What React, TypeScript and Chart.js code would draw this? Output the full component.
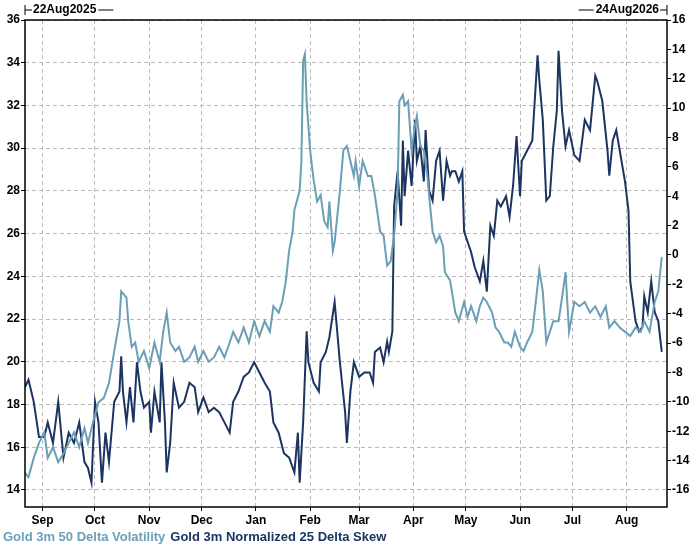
import React, { useEffect, useRef } from "react";
import { Chart, registerables } from "chart.js";
Chart.register(...registerables);

const volDays = [0,2,5,8,11,13,16,19,22,25,28,31,34,36,39,42,45,48,51,54,55,58,59,61,63,65,68,71,74,77,79,81,83,86,88,91,94,97,99,102,105,108,111,114,117,119,122,125,128,131,134,137,140,142,145,147,149,151,153,154,157,158,159,160,161,163,165,167,169,171,173,174,176,177,180,182,184,186,188,189,191,193,196,198,200,203,205,207,209,211,213,214,216,217,219,221,223,224,226,228,230,231,233,235,237,239,240,243,245,246,248,251,253,255,258,260,262,264,267,269,271,274,276,278,280,283,285,287,290,292,294,296,298,300,302,305,307,309,311,314,317,320,323,326,329,332,334,337,340,343,346,349,352,354,357,360,362,364];
const volValues = [14.8,14.6,15.5,16.2,16.7,15.5,16.0,15.3,15.7,16.2,16.7,16.0,16.9,16.2,17.2,18.1,18.3,19.0,20.5,21.9,23.3,23.0,21.9,20.7,20.9,20.0,20.5,19.7,20.9,20.0,21.4,22.3,20.9,20.5,20.7,20.0,20.2,20.7,20.0,20.5,20.0,20.2,20.7,20.2,20.9,21.4,20.9,21.6,20.9,21.9,21.2,21.9,21.4,22.6,22.3,22.8,23.7,25.2,26.1,27.1,28.0,29.4,34.1,34.4,32.2,29.9,28.5,27.5,27.8,26.6,26.3,27.5,25.2,25.6,28.0,29.9,30.1,29.4,28.7,29.4,28.2,29.4,28.7,28.7,27.8,26.1,25.9,24.5,24.7,25.9,28.0,32.2,32.5,32.0,32.2,29.9,31.1,31.5,30.1,29.9,28.7,27.8,26.1,25.6,25.9,25.4,24.2,23.8,22.8,22.3,21.9,22.8,22.1,22.6,21.9,22.6,23.0,22.8,22.3,21.6,21.4,20.9,20.9,20.7,21.4,20.7,20.5,20.9,21.4,22.8,24.3,23.3,20.9,21.4,21.9,21.9,23.0,24.2,21.4,22.8,22.6,22.8,22.3,22.6,22.1,22.6,21.6,21.9,21.6,21.4,21.2,21.6,21.4,21.9,21.4,22.8,23.3,24.9];

const skewDays = [0,2,5,8,11,13,16,19,22,25,28,31,34,36,38,40,42,44,46,48,51,54,55,56,58,60,62,64,66,68,71,72,74,77,78,80,81,83,85,88,91,94,97,99,102,105,108,111,114,117,119,122,125,128,131,134,137,140,142,145,148,151,154,156,157,159,161,162,165,168,169,172,174,177,180,183,184,186,188,191,194,197,199,200,203,205,207,208,210,211,213,215,216,217,219,221,223,224,226,228,229,231,233,235,237,239,241,243,244,246,248,250,251,253,255,257,260,262,264,266,268,270,272,275,277,279,281,283,284,287,290,293,294,296,298,300,302,304,305,307,309,311,314,317,320,323,326,327,330,333,334,336,338,340,343,345,346,349,351,353,354,356,358,360,362,364];
const skewValues = [-9.0,-8.5,-10.0,-12.4,-12.4,-11.4,-12.8,-10.0,-13.8,-12.1,-12.8,-11.4,-14.1,-14.5,-15.5,-10.0,-11.4,-15.5,-12.1,-14.1,-10.0,-9.3,-6.9,-9.3,-11.4,-9.0,-11.4,-7.3,-9.3,-10.4,-10.0,-12.1,-9.3,-11.4,-7.3,-11.4,-14.8,-12.8,-8.7,-10.4,-10.0,-8.7,-9.0,-10.7,-9.7,-10.7,-10.4,-10.7,-11.4,-12.1,-10.0,-9.3,-8.3,-8.0,-7.3,-8.0,-8.7,-9.3,-11.4,-12.1,-13.5,-13.8,-14.8,-12.1,-15.5,-11.4,-5.2,-7.3,-8.7,-9.3,-7.3,-6.6,-5.6,-3.2,-7.3,-10.7,-12.8,-9.3,-7.3,-8.3,-8.0,-8.0,-8.7,-6.6,-6.3,-7.3,-5.9,-6.6,-5.2,3.3,5.7,2.0,7.8,4.0,7.1,4.7,9.2,6.4,7.4,5.0,8.5,4.4,3.7,6.4,7.1,3.7,6.4,5.4,5.7,5.7,5.0,5.7,1.6,0.9,0.2,-0.8,-1.8,-0.4,-2.5,2.0,1.3,3.7,3.3,4.0,2.6,4.7,8.1,4.0,6.4,7.1,7.8,13.6,11.9,9.2,3.7,4.0,7.4,9.8,13.9,9.8,7.4,8.5,6.8,6.4,9.2,8.5,12.2,11.9,10.5,7.1,5.4,7.8,8.5,7.1,5.0,3.0,-1.8,-4.5,-5.2,-4.9,-2.8,-3.9,-1.8,-3.9,-4.5,-6.6];

const monthDays = [10,40,71,101,132,163,191,222,252,283,313,344];
const monthLabels = ["Sep","Oct","Nov","Dec","Jan","Feb","Mar","Apr","May","Jun","Jul","Aug"];
const leftTicks = [14,16,18,20,22,24,26,28,30,32,34,36];
const rightTicks = [-16,-14,-12,-10,-8,-6,-4,-2,0,2,4,6,8,10,12,14,16];
const startLabel = "22Aug2025";
const endLabel = "24Aug2026";
const volName = "Gold 3m 50 Delta Volatility";
const skewName = "Gold 3m Normalized 25 Delta Skew";
const LIGHT = "#6b9fb6";
const DARK = "#1d3461";
const FONT = "'Liberation Sans', Arial, sans-serif";

export default function App() {
  const ref = useRef<HTMLCanvasElement>(null);
  useEffect(() => {
    const textPlugin = {
      id: "texts",
      afterDraw(chart: any) {
        const { ctx, chartArea } = chart;
        ctx.save();
        ctx.strokeStyle = "#000";
        ctx.lineWidth = 1.5;
        ctx.strokeRect(chartArea.left, chartArea.top, chartArea.right - chartArea.left, chartArea.bottom - chartArea.top);
        ctx.font = "bold 12px " + FONT;
        ctx.fillStyle = "#000";
        ctx.textBaseline = "middle";
        ctx.lineWidth = 1;
        const y = 10;
        ctx.beginPath();
        ctx.moveTo(25, y - 5); ctx.lineTo(25, y + 5);
        ctx.moveTo(25, y); ctx.lineTo(32, y);
        ctx.stroke();
        ctx.textAlign = "left";
        ctx.fillText(startLabel, 33, y);
        const w1 = ctx.measureText(startLabel).width;
        ctx.beginPath(); ctx.moveTo(35 + w1, y); ctx.lineTo(50 + w1, y); ctx.stroke();
        ctx.textAlign = "right";
        const w2 = ctx.measureText(endLabel).width;
        ctx.fillText(endLabel, 659, y);
        ctx.beginPath();
        ctx.moveTo(660, y); ctx.lineTo(667, y);
        ctx.moveTo(667, y - 5); ctx.lineTo(667, y + 5);
        ctx.moveTo(657 - w2, y); ctx.lineTo(642 - w2, y);
        ctx.stroke();
        ctx.textAlign = "left";
        ctx.font = "bold 13px " + FONT;
        ctx.fillStyle = LIGHT;
        ctx.fillText(volName, 3, 537);
        const lw = ctx.measureText(volName).width;
        ctx.fillStyle = DARK;
        ctx.fillText(skewName, 3 + lw + 5, 537);
        ctx.restore();
      },
    };
    const tickFont = { family: FONT, size: 12, weight: "bold" as const };
    const chart = new Chart(ref.current!, {
      type: "line",
      data: {
        datasets: [
          { label: volName, data: volDays.map((d, i) => ({ x: d, y: volValues[i] })), borderColor: LIGHT, borderWidth: 2, pointRadius: 0, yAxisID: "y", tension: 0 },
          { label: skewName, data: skewDays.map((d, i) => ({ x: d, y: skewValues[i] })), borderColor: DARK, borderWidth: 2, pointRadius: 0, yAxisID: "y2", tension: 0 },
        ],
      },
      options: {
        animation: false,
        responsive: false,
        layout: { padding: { top: 20, bottom: 21, left: 0, right: 0 } },
        plugins: { legend: { display: false }, tooltip: { enabled: false } },
        scales: {
          x: {
            type: "linear", min: 0, max: 367,
            afterBuildTicks: (s: any) => { s.ticks = monthDays.map((v) => ({ value: v })); },
            afterFit: (s: any) => { s.height = 20; },
            ticks: { callback: (v: any) => monthLabels[monthDays.indexOf(v)] ?? "", color: "#000", font: tickFont, maxRotation: 0, autoSkip: false, padding: 2 },
            grid: { color: "#bbb", tickLength: 4, tickColor: "#000", drawTicks: true } as any,
            border: { dash: [4, 3], display: false } as any,
          },
          y: {
            position: "left", min: 13.2, max: 36,
            afterBuildTicks: (s: any) => { s.ticks = leftTicks.map((v) => ({ value: v })); },
            afterFit: (s: any) => { s.width = 25; },
            ticks: { color: "#000", font: tickFont, padding: 1 },
            grid: { color: "#bbb", tickLength: 4, tickColor: "#000" } as any,
            border: { dash: [4, 3], display: false } as any,
          },
          y2: {
            position: "right", min: -17.16, max: 16,
            afterBuildTicks: (s: any) => { s.ticks = rightTicks.map((v) => ({ value: v })); },
            afterFit: (s: any) => { s.width = 30; },
            ticks: { color: "#000", font: tickFont, padding: 1 },
            grid: { drawOnChartArea: false, tickLength: 4, tickColor: "#000" } as any,
            border: { display: false },
          },
        },
      } as any,
      plugins: [textPlugin],
    });
    return () => chart.destroy();
  }, []);
  return (
    <div style={{ position: "fixed", left: 0, top: 0, width: 697, height: 548, background: "#fff" }}>
      <canvas ref={ref} width={697} height={548} style={{ width: 697, height: 548 }} />
    </div>
  );
}
